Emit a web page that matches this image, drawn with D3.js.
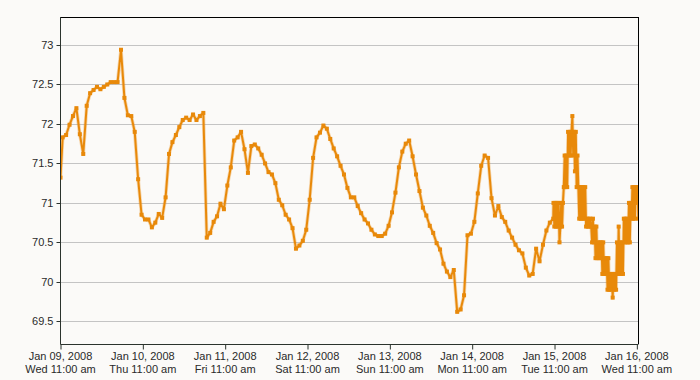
<!DOCTYPE html>
<html><head><meta charset="utf-8">
<script src="https://cdn.jsdelivr.net/npm/d3@7"></script>
<style>
html,body{margin:0;padding:0;background:#fbfaf8;}
svg{display:block;}
text{font-family:"Liberation Sans",Arial,sans-serif;font-size:11px;fill:#2a2a2a;}
</style></head>
<body><svg id="c" width="700" height="380"></svg>
<script>
// ---- data ----
const firstTime = "2008-01-09T11:00:00";
const hourlyStart = "2008-01-09T11:38:00";
const hourlyValues = [
71.32, 71.83, 71.86, 71.99, 72.10, 72.20, 71.87, 71.62, 72.23, 72.39,
72.43, 72.47, 72.44, 72.47, 72.50, 72.53, 72.53, 72.53, 72.94, 72.33,
72.11, 72.10, 71.90, 71.30, 70.85, 70.79, 70.79, 70.69, 70.75, 70.86,
70.81, 71.07, 71.62, 71.77, 71.86, 71.96, 72.05, 72.08, 72.05, 72.12,
72.05, 72.10, 72.14, 70.56, 70.62, 70.76, 70.83, 70.99, 70.92, 71.22,
71.45, 71.79, 71.83, 71.90, 71.68, 71.38, 71.72, 71.74, 71.69, 71.61,
71.50, 71.39, 71.36, 71.25, 71.04, 70.97, 70.85, 70.79, 70.68, 70.42,
70.46, 70.52, 70.66, 71.04, 71.57, 71.83, 71.89, 71.98, 71.94, 71.81,
71.69, 71.59, 71.47, 71.36, 71.19, 71.07, 71.07, 70.96, 70.87, 70.79,
70.74, 70.66, 70.60, 70.58, 70.58, 70.61, 70.71, 70.88, 71.13, 71.45,
71.65, 71.75, 71.79, 71.59, 71.36, 71.15, 70.94, 70.84, 70.71, 70.62,
70.49, 70.41, 70.23, 70.13, 70.06, 70.15, 69.62, 69.65, 69.83, 70.59,
70.61, 70.76, 71.12, 71.47, 71.60, 71.57, 71.06, 70.84, 70.96, 70.82,
70.76, 70.65, 70.56, 70.47, 70.40, 70.36, 70.18, 70.08, 70.10, 70.42,
70.26, 70.47, 70.65, 70.75, 70.80
];
// dense readings every 15 minutes
const denseStart = "2008-01-15T10:42:00";
const denseStepMin = 15;
const denseValues = [
71.0, 70.7, 71.0, 70.7, 71.0, 70.7, 71.0, 70.5, 70.7, 71.0,
70.7, 71.0, 71.2, 71.6, 71.2, 71.6, 71.2, 71.9, 71.6, 71.9,
71.6, 71.9, 72.1, 71.6, 71.9, 71.4, 71.9, 71.2, 71.6, 71.2,
70.8, 71.2, 70.8, 71.2, 70.8, 71.2, 70.8, 71.2, 70.7, 70.8,
70.7, 70.8, 70.7, 70.8, 70.7, 70.5, 70.8, 70.5, 70.7, 70.3,
70.7, 70.3, 70.5, 70.3, 70.5, 70.3, 70.5, 70.1, 70.5, 70.1,
70.3, 70.1, 70.3, 69.9, 70.3, 69.9, 70.1, 69.9, 70.1, 69.8,
70.1, 69.9, 70.1, 69.9, 70.5, 70.1, 70.7, 70.1, 70.5, 70.1,
70.5, 70.1, 70.8, 70.5, 70.8, 70.5, 70.8, 70.5, 71.0, 70.5,
71.0, 70.8, 71.2, 70.8, 71.2, 70.8, 71.2, 71.0, 71.2, 70.8
];
const yTicks = [69.5, 70, 70.5, 71, 71.5, 72, 72.5, 73];
const xTickDates = ["2008-01-09T11:00:00","2008-01-10T11:00:00","2008-01-11T11:00:00","2008-01-12T11:00:00",
  "2008-01-13T11:00:00","2008-01-14T11:00:00","2008-01-15T11:00:00","2008-01-16T11:00:00"];
const domainStart = "2008-01-09T11:00:00";
const domainEnd = "2008-01-16T11:20:00";
const yDomain = [69.2125, 73.355];

// ---- build series ----
const parse = d3.isoParse;
const HOUR = 3600e3;
const data = [];
data.push({t: parse(firstTime), v: hourlyValues[0]});
const hs = parse(hourlyStart).getTime();
for (let i = 1; i < hourlyValues.length; i++) data.push({t: new Date(hs + (i-1)*HOUR), v: hourlyValues[i]});
const ds = parse(denseStart).getTime();
denseValues.forEach((v,i)=>data.push({t: new Date(ds + i*denseStepMin*60e3), v}));

// ---- layout ----
const L = 60.5, R = 638, T = 17, B = 344;
const svg = d3.select("#c");
svg.append("rect").attr("width",700).attr("height",380).attr("fill","#fbfaf8");
const x = d3.scaleTime().domain([parse(domainStart), parse(domainEnd)]).range([L, R]);
const y = d3.scaleLinear().domain(yDomain).range([B, T]);

// gridlines
svg.append("g").selectAll("line").data(yTicks).join("line")
  .attr("x1", L).attr("x2", R)
  .attr("y1", d=>Math.round(y(d))+0.5).attr("y2", d=>Math.round(y(d))+0.5)
  .attr("stroke","#c4c4c4").attr("stroke-width",1);

// clip
svg.append("clipPath").attr("id","clip").append("rect")
  .attr("x",L).attr("y",T).attr("width",R-L).attr("height",B-T);

const color = "#e8890a";
const g = svg.append("g").attr("clip-path","url(#clip)");
const lineGen = d3.line().x(d=>x(d.t)).y(d=>y(d.v));
g.append("path").datum(data)
  .attr("fill","none").attr("stroke",color).attr("stroke-opacity",0.3).attr("stroke-width",3.6).attr("stroke-linejoin","round")
  .attr("d", lineGen);
g.append("path").datum(data)
  .attr("fill","none").attr("stroke",color).attr("stroke-width",2).attr("stroke-linejoin","round")
  .attr("d", lineGen);
g.append("g").selectAll("rect").data(data).join("rect")
  .attr("x", d=>x(d.t)-2).attr("y", d=>y(d.v)-2).attr("width",4).attr("height",4)
  .attr("fill",color);

// borders
svg.append("line").attr("x1",L).attr("x2",R+0.5).attr("y1",T+0.5).attr("y2",T+0.5).attr("stroke","#000");
svg.append("line").attr("x1",R+0.5).attr("x2",R+0.5).attr("y1",T).attr("y2",B).attr("stroke","#000");

// y axis
const yAxis = d3.axisLeft(y).tickValues(yTicks).tickSize(4).tickPadding(3).tickFormat(d3.format("~g"));
const ya = svg.append("g").attr("transform",`translate(${L},0)`).call(yAxis);
ya.select(".domain").attr("stroke","#2b332d").attr("d",`M0,${T}V${B+0.5}`);
ya.selectAll(".tick line").attr("stroke","#2b332d");
ya.selectAll(".tick").attr("transform", d=>`translate(0,${Math.round(y(d))+0.5})`);
ya.selectAll("text").attr("font-family",null).attr("font-size",null).attr("fill","#2a2a2a");

// x axis
const xs = xTickDates.map(parse);
const xAxis = d3.axisBottom(x).tickValues(xs).tickSize(5).tickFormat("");
const xa = svg.append("g").attr("transform",`translate(0,${B+0.5})`).call(xAxis);
xa.select(".domain").attr("stroke","#2b332d").attr("d",`M${L},0H${R+0.5}`);
xa.selectAll(".tick line").attr("stroke","#2b332d");
const f1 = d3.timeFormat("%b %d, %Y"), f2 = d => d3.timeFormat("%a %I:%M ")(d) + d3.timeFormat("%p")(d).toLowerCase();
const lab = svg.append("g").selectAll("text").data(xs).join("text")
  .attr("text-anchor","middle").attr("x", d=>x(d));
lab.append("tspan").attr("x", d=>x(d)).attr("y", 360).text(f1);
lab.append("tspan").attr("x", d=>x(d)).attr("y", 373).text(f2);
</script></body></html>
